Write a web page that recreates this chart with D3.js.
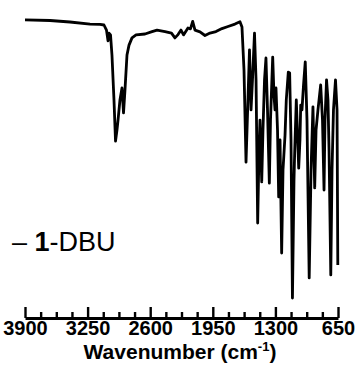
<!DOCTYPE html>
<html>
<head>
<meta charset="utf-8">
<script src="https://cdn.jsdelivr.net/npm/d3@7"></script>
<style>
  body { margin: 0; background: #fff; }
  svg { display: block; font-family: "Liberation Sans", Arial, sans-serif; }
</style>
</head>
<body>
<div id="chart"></div>
<script>
// IR spectrum of 1-DBU, wavenumber (cm-1) vs transmittance (a.u.)
const wavenumber = [
  3900, 3640, 3433, 3225, 3121, 3080, 3054, 3038, 3028, 3012,
  2997, 2976, 2960, 2945, 2934, 2914, 2893, 2877, 2862, 2841,
  2820, 2789, 2747, 2654, 2581, 2529, 2446, 2379, 2343, 2311,
  2280, 2254, 2208, 2182, 2159, 2135, 2083, 2031, 1979, 1917,
  1855, 1792, 1720, 1668, 1647,
  1626, 1605, 1585, 1569, 1553, 1538, 1517, 1501, 1484, 1470,
  1460, 1442, 1429, 1413, 1398, 1382, 1363, 1351, 1328, 1315,
  1304, 1294, 1278, 1266, 1252, 1235, 1221, 1200, 1187, 1166,
  1152, 1138, 1123, 1107, 1100, 1083, 1058, 1045, 1037, 1024,
  1008, 990, 972, 949, 930, 910, 892, 878, 858, 830,
  811, 795, 785, 769, 754, 743, 725, 712, 697, 676,
  660, 652
];
const transmittance = [
  96.7, 96.5, 96.0, 95.3, 95.2, 95.0, 93.3, 89.7, 92.3, 91.7,
  85.0, 70.0, 56.3, 60.0, 63.3, 70.0, 74.0, 65.7, 73.3, 85.0,
  88.3, 90.7, 91.7, 92.0, 92.8, 93.3, 92.8, 92.3, 90.7, 91.8,
  93.3, 91.7, 94.0, 93.7, 96.2, 93.3, 92.7, 91.5, 92.3, 92.8,
  93.8, 94.5, 95.3, 96.1, 94.3,
  80.0, 49.3, 70.0, 86.7, 66.7, 76.7, 92.3, 76.7, 29.0, 53.3,
  63.3, 42.7, 60.0, 76.7, 84.0, 66.7, 42.3, 63.3, 84.3, 71.7,
  66.7, 74.0, 60.0, 37.7, 56.7, 19.0, 46.7, 58.3, 70.0, 79.3,
  79.0, 56.7, 4.0, 43.3, 52.3, 70.0, 47.3, 56.7, 68.3, 66.7,
  75.0, 82.7, 63.3, 10.7, 46.7, 67.7, 40.7, 60.0, 66.7, 75.0,
  63.3, 40.0, 63.3, 76.7, 70.0, 53.3, 11.7, 46.7, 66.7, 76.7,
  66.7, 15.0
];
const majorTicks = [3900, 3250, 2600, 1950, 1300, 650];
const minorTicks = d3.range(3900, 649, -162.5).filter(v => !majorTicks.includes(v));
const seriesLabel = ['1', '-DBU'];

const width = 359, height = 371;
const axisY = 318;

const svg = d3.select('#chart').append('svg')
  .attr('width', width)
  .attr('height', height);

const x = d3.scaleLinear().domain([3900, 650]).range([25, 338]);
const y = d3.scaleLinear().domain([0, 100]).range([310, 10]);

// spectrum
const data = wavenumber.map((w, i) => ({ w, t: transmittance[i] }));
const line = d3.line()
  .x(d => x(d.w))
  .y(d => y(d.t));

svg.append('path')
  .datum(data)
  .attr('fill', 'none')
  .attr('stroke', '#000')
  .attr('stroke-width', 2.8)
  .attr('stroke-linejoin', 'round')
  .attr('d', line);

// minor ticks
svg.append('g')
  .attr('transform', `translate(0,${axisY})`)
  .call(d3.axisBottom(x).tickValues(minorTicks).tickSizeInner(-6).tickSizeOuter(0).tickFormat(''))
  .call(g => g.select('.domain').remove())
  .call(g => g.selectAll('.tick line').attr('stroke', '#000').attr('stroke-width', 2.4));

// major ticks + labels
svg.append('g')
  .attr('transform', `translate(0,${axisY})`)
  .call(d3.axisBottom(x).tickValues(majorTicks).tickSizeInner(-11).tickSizeOuter(0).tickPadding(3).tickFormat(d3.format('d')))
  .call(g => g.select('.domain').attr('stroke', '#000').attr('stroke-width', 3))
  .call(g => g.selectAll('.tick line').attr('stroke', '#000').attr('stroke-width', 2.4))
  .call(g => g.selectAll('.tick text')
    .attr('fill', '#000')
    .style('font-size', '20px')
    .style('font-weight', 'bold')
    .style('font-family', '"Liberation Sans", Arial, sans-serif'));

// axis title
const title = svg.append('text')
  .attr('x', 180)
  .attr('y', 358.5)
  .attr('text-anchor', 'middle')
  .style('font-size', '21px')
  .style('font-weight', 'bold');
title.append('tspan').text('Wavenumber (cm');
title.append('tspan').attr('dy', -8).style('font-size', '13px').text('-1');
title.append('tspan').attr('dy', 8).text(')');

// legend
const legend = svg.append('text')
  .attr('x', 12)
  .attr('y', 251)
  .style('font-size', '27px');
legend.append('tspan').text('– ');
legend.append('tspan').style('font-weight', 'bold').text(seriesLabel[0]);
legend.append('tspan').text(seriesLabel[1]);
</script>
</body>
</html>
